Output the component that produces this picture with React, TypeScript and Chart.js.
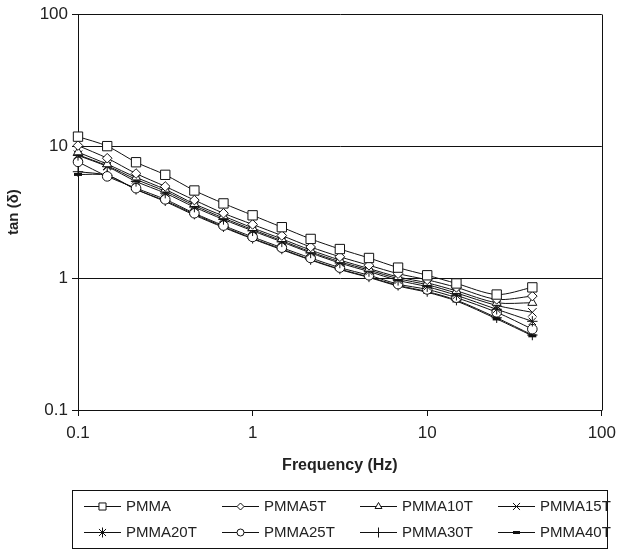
import React, { useEffect, useRef } from "react";
import { Chart, registerables } from "chart.js";
import { drawPoint } from "chart.js/helpers";

Chart.register(...registerables);

const FREQUENCIES = [0.1, 0.147, 0.215, 0.316, 0.464, 0.681, 1, 1.47, 2.15, 3.16, 4.64, 6.81, 10, 14.7, 25, 40];

const PMMA = [11.8, 10.0, 7.55, 6.06, 4.61, 3.68, 2.99, 2.43, 1.98, 1.66, 1.42, 1.2, 1.05, 0.91, 0.75, 0.85];
const PMMA5T = [10.1, 8.1, 6.2, 4.95, 3.9, 3.1, 2.55, 2.1, 1.72, 1.45, 1.25, 1.08, 0.97, 0.85, 0.69, 0.73];
const PMMA10T = [9.0, 7.3, 5.8, 4.7, 3.65, 2.95, 2.4, 1.98, 1.63, 1.37, 1.18, 1.02, 0.92, 0.8, 0.65, 0.65];
const PMMA15T = [8.6, 7.1, 5.6, 4.55, 3.55, 2.85, 2.33, 1.92, 1.58, 1.33, 1.15, 0.99, 0.89, 0.77, 0.62, 0.55];
const PMMA20T = [8.5, 7.0, 5.4, 4.4, 3.45, 2.78, 2.28, 1.88, 1.55, 1.3, 1.12, 0.96, 0.86, 0.74, 0.58, 0.47];
const PMMA25T = [7.6, 5.9, 4.8, 3.95, 3.1, 2.5, 2.05, 1.7, 1.42, 1.2, 1.05, 0.9, 0.82, 0.71, 0.55, 0.41];
const PMMA30T = [6.4, 6.0, 4.7, 3.85, 3.05, 2.45, 2.0, 1.66, 1.38, 1.17, 1.02, 0.88, 0.79, 0.68, 0.5, 0.37];
const PMMA40T = [6.1, 6.0, 4.7, 3.8, 3.0, 2.42, 1.98, 1.64, 1.37, 1.16, 1.01, 0.87, 0.78, 0.67, 0.49, 0.365];

const SERIES_NAMES = ["PMMA", "PMMA5T", "PMMA10T", "PMMA15T", "PMMA20T", "PMMA25T", "PMMA30T", "PMMA40T"];
const SERIES_VALUES = [PMMA, PMMA5T, PMMA10T, PMMA15T, PMMA20T, PMMA25T, PMMA30T, PMMA40T];

const X_TICKS = [0.1, 1, 10, 100];
const Y_TICKS = [0.1, 1, 10, 100];

const X_TITLE = "Frequency (Hz)";
const Y_TITLE = "tan (\u03b4)";

const FONT = '"Liberation Sans", Arial, Helvetica, sans-serif';

const MARKERS = [
  { style: "rect", radius: 6.6, legendRadius: 5, width: 1, fill: "#fff" },
  { style: "rectRot", radius: 4.8, legendRadius: 3.5, width: 1, fill: "#fff" },
  { style: "triangle", radius: 5.2, legendRadius: 4, width: 1, fill: "#fff" },
  { style: "crossRot", radius: 6, legendRadius: 5, width: 1, fill: "#fff" },
  { style: "star", radius: 5.2, legendRadius: 5, width: 1, fill: "#fff" },
  { style: "circle", radius: 4.8, legendRadius: 3.5, width: 1, fill: "#fff" },
  { style: "cross", radius: 5.2, legendRadius: 5, width: 1, fill: "#fff" },
  { style: "line", radius: 4, legendRadius: 3.5, width: 3, fill: "#000" },
];

const legendPlugin = {
  id: "boxLegend",
  afterDraw(chart: any) {
    const ctx = chart.ctx as CanvasRenderingContext2D;
    ctx.save();
    ctx.strokeStyle = "#111";
    ctx.lineWidth = 1;
    ctx.strokeRect(72.5, 490.5, 535, 58);
    chart.data.datasets.forEach((ds: any, i: number) => {
      const m = MARKERS[i];
      const col = i % 4;
      const row = Math.floor(i / 4);
      const x0 = 84 + col * 138;
      const y = row === 0 ? 506.5 : 532.5;
      ctx.strokeStyle = "#111";
      ctx.lineWidth = 1;
      ctx.beginPath();
      ctx.moveTo(x0, y);
      ctx.lineTo(x0 + 37, y);
      ctx.stroke();
      ctx.fillStyle = m.fill;
      ctx.strokeStyle = "#111";
      ctx.lineWidth = m.width;
      drawPoint(ctx, { pointStyle: m.style, rotation: 0, radius: m.legendRadius, borderWidth: m.width } as any, x0 + 18.5, y);
      ctx.fillStyle = "#222";
      ctx.font = `15px ${FONT}`;
      ctx.textBaseline = "middle";
      ctx.textAlign = "left";
      ctx.fillText(ds.label, x0 + 42, y + 0.5);
    });
    ctx.restore();
  },
};

const framePlugin = {
  id: "frame",
  beforeDatasetsDraw(chart: any) {
    const { right, top, bottom } = chart.chartArea;
    const ctx = chart.ctx as CanvasRenderingContext2D;
    ctx.save();
    ctx.strokeStyle = "#111";
    ctx.lineWidth = 1;
    ctx.beginPath();
    ctx.moveTo(Math.round(right) + 0.5, Math.round(top) + 0.5);
    ctx.lineTo(Math.round(right) + 0.5, Math.round(bottom) + 0.5);
    ctx.stroke();
    ctx.restore();
  },
};

export default function App() {
  const ref = useRef<HTMLCanvasElement>(null);

  useEffect(() => {
    if (!ref.current) return;
    const datasets = SERIES_NAMES.map((name, i) => ({
      label: name,
      data: FREQUENCIES.map((f, j) => ({ x: f, y: SERIES_VALUES[i][j] })),
      borderColor: "#111",
      borderWidth: 1,
      tension: 0.3,
      pointStyle: MARKERS[i].style,
      pointRadius: MARKERS[i].radius,
      pointBorderWidth: MARKERS[i].width,
      pointBorderColor: "#111",
      pointBackgroundColor: MARKERS[i].fill,
      fill: false,
      clip: false,
    }));

    const chart = new Chart(ref.current, {
      type: "line",
      data: { datasets } as any,
      options: {
        animation: false,
        responsive: false,
        devicePixelRatio: 1,
        layout: { padding: { top: 12, right: 18, left: 0, bottom: 71 } },
        plugins: {
          legend: { display: false },
          tooltip: { enabled: false },
        },
        scales: {
          x: {
            type: "logarithmic",
            min: 0.1,
            max: 100,
            afterBuildTicks: (scale: any) => {
              scale.ticks = X_TICKS.map((v) => ({ value: v }));
            },
            afterFit: (scale: any) => {
              scale.height = 70;
            },
            ticks: {
              autoSkip: false,
              maxRotation: 0,
              padding: 7,
              color: "#222",
              font: { family: FONT, size: 17 },
              callback: (v: any) => String(Number(v)),
            },
            grid: {
              drawOnChartArea: false,
              drawTicks: true,
              tickLength: 6,
              color: "#111",
            },
            border: { display: true, color: "#111", width: 1 },
            title: {
              display: true,
              text: X_TITLE,
              color: "#222",
              font: { family: FONT, size: 16, weight: "bold" },
              padding: { top: 0, bottom: 5 },
            },
          },
          y: {
            type: "logarithmic",
            min: 0.1,
            max: 100,
            afterBuildTicks: (scale: any) => {
              scale.ticks = Y_TICKS.map((v) => ({ value: v }));
            },
            afterFit: (scale: any) => {
              scale.width = 78;
            },
            ticks: {
              autoSkip: false,
              padding: 4,
              color: "#222",
              font: { family: FONT, size: 17 },
              callback: (v: any) => String(Number(v)),
            },
            grid: {
              drawOnChartArea: true,
              drawTicks: true,
              tickLength: 6,
              color: "#111",
              lineWidth: 1,
            },
            border: { display: true, color: "#111", width: 1 },
            title: {
              display: true,
              text: Y_TITLE,
              color: "#222",
              font: { family: FONT, size: 15, weight: "bold" },
              padding: { top: 5, bottom: 0 },
            },
          },
        },
      } as any,
      plugins: [framePlugin, legendPlugin],
    });
    return () => chart.destroy();
  }, []);

  return (
    <div style={{ position: "fixed", left: 0, top: 0, width: 623, height: 551, background: "#fff" }}>
      <canvas ref={ref} width={623} height={551} style={{ display: "block", width: 623, height: 551 }} />
    </div>
  );
}
